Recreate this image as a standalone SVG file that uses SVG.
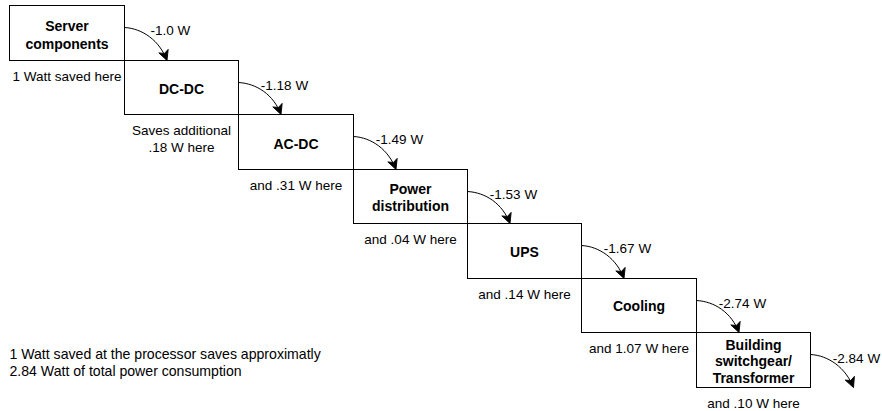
<svg xmlns="http://www.w3.org/2000/svg" width="882" height="411" viewBox="0 0 882 411">
<style>
.box{fill:#fff;stroke:#000;stroke-width:1}
.t{font-family:"Liberation Sans",Arial,sans-serif;font-size:13.5px;fill:#000;dominant-baseline:central}
.n{font-size:14.1px}
.b{font-family:"Liberation Sans",Arial,sans-serif;font-size:14px;font-weight:bold;fill:#000;text-anchor:middle;dominant-baseline:central}
.m{text-anchor:middle}
.c{fill:none;stroke:#000;stroke-width:1}
</style>
<defs>
<marker id="arr" markerUnits="userSpaceOnUse" markerWidth="12" markerHeight="12" viewBox="-11 -6 12 12" refX="0" refY="0" orient="auto">
<path d="M0,0 L-10,-5 L-7.5,0 L-10,5 Z" fill="#000" stroke="#000" stroke-width="0.8" stroke-linejoin="miter"/>
</marker>
</defs>
<rect width="882" height="411" fill="#fff"/>
<g id="node-server">
<rect class="box" x="9.5" y="5.5" width="115" height="55"/>
<text class="b" x="67" y="26">Server</text>
<text class="b" x="67" y="43.5">components</text>
<text class="t m" x="67" y="76">1 Watt saved here</text>
</g>
<g id="node-dcdc">
<rect class="box" x="124.5" y="60.5" width="114" height="54"/>
<text class="b" x="181.5" y="88.5">DC-DC</text>
<text class="t m" x="181.5" y="130">Saves additional</text>
<text class="t m" x="181.5" y="147">.18 W here</text>
</g>
<g id="node-acdc">
<rect class="box" x="238.5" y="114.5" width="115" height="55"/>
<text class="b" x="296" y="143.5">AC-DC</text>
<text class="t m" x="296" y="185">and .31 W here</text>
</g>
<g id="node-power">
<rect class="box" x="353.5" y="169.5" width="114" height="54"/>
<text class="b" x="410.5" y="189">Power</text>
<text class="b" x="410.5" y="206">distribution</text>
<text class="t m" x="410.5" y="239.5">and .04 W here</text>
</g>
<g id="node-ups">
<rect class="box" x="467.5" y="223.5" width="114" height="55"/>
<text class="b" x="524.5" y="251.5">UPS</text>
<text class="t m" x="524.5" y="294">and .14 W here</text>
</g>
<g id="node-cooling">
<rect class="box" x="581.5" y="278.5" width="115" height="54"/>
<text class="b" x="639" y="305.5">Cooling</text>
<text class="t m" x="639" y="348.5">and 1.07 W here</text>
</g>
<g id="node-building">
<rect class="box" x="696.5" y="332.5" width="114" height="55"/>
<text class="b" x="753.5" y="344.5">Building</text>
<text class="b" x="753.5" y="361">switchgear/</text>
<text class="b" x="753.5" y="377.5">Transformer</text>
<text class="t m" x="753.5" y="403">and .10 W here</text>
</g>
<g id="connectors">
<path class="c" marker-end="url(#arr)" d="M124.5,27.5 C142.5,28.5 159.5,40.5 167,60.5"/>
<path class="c" marker-end="url(#arr)" d="M238.5,82.5 C256.5,83.5 273.5,94.5 281,114.5"/>
<path class="c" marker-end="url(#arr)" d="M353.5,136.5 C371.5,137.5 388.5,149.5 396,169.5"/>
<path class="c" marker-end="url(#arr)" d="M467.5,191.5 C485.5,192.5 502.5,203.5 510,223.5"/>
<path class="c" marker-end="url(#arr)" d="M581.5,245.5 C599.5,246.5 616.5,258.5 624,278.5"/>
<path class="c" marker-end="url(#arr)" d="M696.5,300.5 C714.5,301.5 731.5,312.5 739,332.5"/>
<path class="c" marker-end="url(#arr)" d="M810.5,354.5 C828.5,355.5 845.5,367.5 853.5,387.5"/>
<text class="t m" x="170.5" y="30.5">-1.0 W</text>
<text class="t m" x="284.5" y="85">-1.18 W</text>
<text class="t m" x="399.5" y="139">-1.49 W</text>
<text class="t m" x="513.5" y="194">-1.53 W</text>
<text class="t m" x="627.5" y="248">-1.67 W</text>
<text class="t m" x="742.5" y="303.5">-2.74 W</text>
<text class="t m" x="856.5" y="358">-2.84 W</text>
</g>
<g id="note">
<text class="t n" x="9.5" y="353.5">1 Watt saved at the processor saves approximatly</text>
<text class="t n" x="9.5" y="371">2.84 Watt of total power consumption</text>
</g>
</svg>
